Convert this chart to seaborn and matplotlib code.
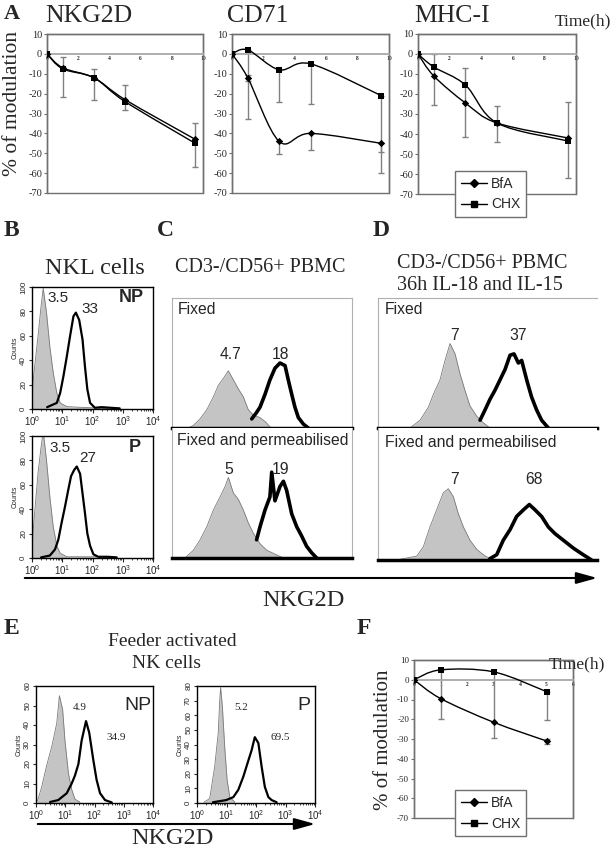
import numpy as np
import matplotlib
matplotlib.use('Agg')
import matplotlib.pyplot as plt
from matplotlib.path import Path
from matplotlib.patches import PathPatch, Rectangle, FancyArrowPatch
from matplotlib.lines import Line2D
from matplotlib.ticker import LogLocator, NullFormatter
import seaborn as sns

sns.set_style('white')
plt.rcParams['font.family'] = ['Liberation Sans', 'DejaVu Sans']
plt.rcParams['axes.unicode_minus'] = False
SERIF = ['Liberation Serif', 'DejaVu Serif']

# ---- panel A / F : % of modulation over time ----
time_a = [0, 1, 3, 5, 9.5]
nkg2d_bfa = [0, -7, -12, -23, -43]
nkg2d_chx = [0, -7.5, -12, -24, -45]
nkg2d_bar_t = [1, 3, 5, 9.5]
nkg2d_bar_lo = [-21.5, -23, -28, -57]
nkg2d_bar_hi = [-1.5, -7.5, -15.5, -35]

cd71_bfa = [0, -12, -44, -40, -45]
cd71_chx = [0, 2, -8, -5, -21]
cd71_bar_t = [1, 3, 5, 9.5, 1, 3, 5, 9.5]
cd71_bar_lo = [-33, -24, -25, -60, -13.5, -50.5, -48.5, -49.5]
cd71_bar_hi = [2, -8, -5, -21, -10.5, -44, -40, -45]

mhc_bfa = [0, -11, -24.5, -34.5, -42]
mhc_chx = [0, -6.5, -15.5, -34.5, -43.5]
mhc_bar_t = [1, 3, 5, 9.5]
mhc_bar_lo = [-25.5, -41.5, -44, -62]
mhc_bar_hi = [0, -7, -26, -24]

time_f = [0, 1, 3, 5]
f_bfa = [0, -9.5, -21.5, -31]
f_chx = [0, 5, 4, -6]
f_bar_t = [1, 3, 5, 5]
f_bar_lo = [-20, -29.5, -20.5, -32.5]
f_bar_hi = [5, 4, -6, -30]

# ---- panel B : NKL cells, log10 fluorescence vs counts ----
b_np_iso_log = [0.0, 0.04, 0.2, 0.29, 0.37, 0.48, 0.59, 0.70, 0.82, 0.93, 1.15, 1.5, 2.0, 2.6]
b_np_iso_cnt = [0, 24, 60, 82, 99, 79, 51, 30, 13, 5, 2, 1.5, 1, 0]
b_np_ab_log = [0.5, 0.82, 0.93, 1.04, 1.15, 1.26, 1.37, 1.45, 1.56, 1.67, 1.75, 1.83, 1.92, 2.08, 2.3, 2.6, 2.9]
b_np_ab_cnt = [1.5, 5, 13, 27, 43, 60, 76, 79, 73, 57, 35, 16, 5, 1, 1.5, 1, 0.5]
b_p_iso_log = [0.0, 0.04, 0.2, 0.3, 0.37, 0.48, 0.59, 0.70, 0.82, 0.93, 1.15, 1.6, 2.2, 2.8]
b_p_iso_cnt = [0, 23, 70, 91, 104, 80, 50, 26, 10, 4, 1, 1, 1, 0.5]
b_p_ab_log = [0.3, 0.59, 0.76, 0.87, 0.98, 1.09, 1.2, 1.29, 1.39, 1.48, 1.59, 1.67, 1.75, 1.83, 1.92, 2.03, 2.19, 2.5, 2.8]
b_p_ab_cnt = [0.5, 2, 7, 15, 29, 42, 56, 67, 72, 75, 69, 53, 37, 20, 10, 3, 1, 1, 0.5]

# ---- panels C / D : channel (0-1000) vs % of panel height ----
c_fix_iso_ch = [91, 119, 156, 193, 230, 258, 285, 313, 341, 369, 396, 424, 452, 489, 517, 544]
c_fix_iso_cnt = [0, 2, 7, 14, 24, 33, 38, 44, 37, 30, 24, 14, 10, 8, 5, 1]
c_fix_ab_ch = [443, 470, 489, 517, 544, 572, 600, 628, 646, 665, 683, 702, 730, 757]
c_fix_ab_cnt = [7, 12, 16, 26, 37, 46, 50, 48, 37, 26, 16, 8, 3, 0]
c_perm_iso_ch = [72, 119, 156, 193, 230, 267, 295, 313, 341, 369, 396, 424, 452, 489, 526, 572, 619]
c_perm_iso_cnt = [0, 6, 14, 24, 37, 47, 55, 62, 50, 45, 37, 27, 19, 11, 6, 3, 0]
c_perm_ab_ch = [470, 489, 517, 544, 554, 572, 600, 619, 637, 665, 693, 720, 748, 776, 804]
c_perm_ab_cnt = [14, 24, 37, 47, 66, 44, 55, 59, 52, 34, 24, 17, 9, 4, 0]

d_fix_iso_ch = [146, 192, 230, 253, 283, 306, 329, 352, 374, 397, 420, 451, 481, 511]
d_fix_iso_cnt = [0, 6, 16, 26, 37, 52, 65, 57, 42, 29, 17, 9, 4, 0]
d_fix_ab_ch = [466, 489, 511, 534, 557, 580, 603, 621, 641, 656, 679, 701, 724, 747, 778]
d_fix_ab_cnt = [6, 14, 22, 29, 37, 45, 56, 57, 50, 52, 37, 24, 14, 6, 0]
d_perm_iso_ch = [85, 177, 207, 237, 268, 298, 321, 344, 367, 390, 420, 451, 489, 527]
d_perm_iso_cnt = [0, 3, 10, 25, 38, 51, 54, 48, 35, 25, 15, 8, 3, 0]
d_perm_ab_ch = [511, 542, 572, 603, 633, 664, 691, 717, 747, 778, 808, 846, 892, 937, 975]
d_perm_ab_cnt = [1, 4, 15, 23, 33, 38, 42, 38, 33, 25, 20, 15, 9, 4, 0]

# ---- panel E : feeder activated NK cells ----
e_np_iso_log = [0.05, 0.19, 0.36, 0.54, 0.71, 0.80, 0.91, 0.99, 1.11, 1.22, 1.33, 1.50]
e_np_iso_cnt = [1, 8, 19, 29, 41, 55, 48, 32, 15, 7, 2, 0.5]
e_np_ab_log = [0.48, 0.76, 1.05, 1.22, 1.33, 1.45, 1.56, 1.71, 1.82, 1.96, 2.07, 2.19, 2.36, 2.59]
e_np_ab_cnt = [0.5, 1.5, 5, 10, 14, 20, 32, 42, 36, 22, 12, 5, 1.5, 0.3]
e_p_iso_log = [0.23, 0.43, 0.60, 0.72, 0.77, 0.80, 0.86, 0.94, 1.02, 1.11, 1.28]
e_p_iso_cnt = [0.5, 3, 25, 48, 70, 79, 66, 38, 16, 4, 0.7]
e_p_ab_log = [0.54, 0.99, 1.23, 1.40, 1.57, 1.74, 1.85, 1.96, 2.08, 2.19, 2.30, 2.42, 2.53, 2.7]
e_p_ab_cnt = [0.5, 2, 4, 9, 18, 29, 36, 45, 41, 25, 11, 4, 2, 0.5]

W, H = 615, 848
fig = plt.figure(figsize=(W / 100, H / 100), dpi=100)


def add_ax(l, t, r, b):
    return fig.add_axes([l / W, 1 - b / H, (r - l) / W, (b - t) / H])


def txt(x, y, s, **kw):
    kw.setdefault('ha', 'center')
    kw.setdefault('va', 'center')
    fig.text(x / W, 1 - y / H, s, **kw)


def smooth(ax, x, y):
    # excel-like smoothed line through the points
    p = np.column_stack([x, y]).astype(float)
    n = len(p)
    verts, codes = [p[0]], [Path.MOVETO]
    for i in range(n - 1):
        p0 = p[i - 1] if i > 0 else p[i]
        p3 = p[i + 2] if i + 2 < n else p[i + 1]
        verts += [p[i] + (p[i + 1] - p0) / 6, p[i + 1] - (p3 - p[i]) / 6, p[i + 1]]
        codes += [Path.CURVE4] * 3
    ax.add_patch(PathPatch(Path(verts, codes), fill=False, lw=1, ec='k', zorder=3))


def mod_panel(ax, t, bfa, chx, bt, blo, bhi, xmax, xstep, ysize=7.5):
    blo, bhi = np.array(blo), np.array(bhi)
    ax.errorbar(bt, (blo + bhi) / 2, yerr=(bhi - blo) / 2, fmt='none', ecolor='#808080',
                elinewidth=1, capsize=2.5, capthick=1, zorder=2)
    for y, mk, ms in ((bfa, 'D', 14), (chx, 's', 24)):
        smooth(ax, t, y)
        sns.scatterplot(x=t, y=y, marker=mk, s=ms, color='k', edgecolor='k', linewidth=0,
                        ax=ax, zorder=4, legend=False)
    ax.set_xlabel('')
    ax.set_ylabel('')
    ax.spines['bottom'].set_position(('data', 0))
    ax.spines['bottom'].set_color('#a8a8a8')
    ax.spines['bottom'].set_linewidth(1.3)
    for s in ('top', 'right', 'left'):
        ax.spines[s].set_color('#707070')
        ax.spines[s].set_linewidth(1)
    ax.set_xlim(0, xmax)
    ax.set_ylim(-70, 10)
    ax.set_yticks(range(-70, 11, 10), labels=[str(v) for v in range(-70, 11, 10)],
                  fontfamily=SERIF, fontsize=ysize)
    xt = np.arange(0, xmax + 0.1, xstep)
    ax.set_xticks(xt, labels=['%d' % v for v in xt], fontfamily=SERIF, fontsize=4, fontweight='bold')
    ax.add_patch(Rectangle((0, 0), 1, 1, transform=ax.transAxes, fill=False, ec='#707070',
                           lw=1, clip_on=False))
    ax.tick_params(axis='x', length=0, pad=1.5)
    ax.tick_params(axis='y', left=True, length=2, width=0.8, color='#707070', pad=1.5)


def flow_hist(ax, xi, yi, xa, ya, lw, log=True):
    xi = 10 ** np.array(xi) if log else np.array(xi)
    xa = 10 ** np.array(xa) if log else np.array(xa)
    ax.fill_between(xi, yi, color='#c4c4c4', lw=0, zorder=2)
    ax.plot(xi, yi, color='#7a7a7a', lw=0.6, zorder=2)
    sns.lineplot(x=xa, y=ya, color='k', lw=lw, sort=False, ax=ax, zorder=3)


def flow_axes(ax, ymax, ystep):
    ax.set_xscale('log')
    ax.set_xlim(1, 1e4)
    ax.set_ylim(0, ymax)
    ax.set_xticks([1, 10, 100, 1000, 10000])
    ax.xaxis.set_minor_locator(LogLocator(base=10, subs=range(2, 10), numticks=20))
    ax.xaxis.set_minor_formatter(NullFormatter())
    ax.set_yticks(range(0, ymax + 1, ystep))
    ax.tick_params(axis='y', left=True, length=2.5, width=0.8, labelsize=5.8, pad=1,
                   labelrotation=90)
    ax.tick_params(axis='x', which='major', bottom=True, length=3, width=0.8, labelsize=7, pad=1)
    ax.tick_params(axis='x', which='minor', bottom=True, length=1.5, width=0.6)
    for lab in ax.get_yticklabels():
        lab.set_va('center')
    for s in ax.spines.values():
        s.set_color('k')
        s.set_linewidth(1)
    ax.set_xlabel('')
    ax.set_ylabel('Counts', fontsize=5, labelpad=1)


def box_axes(ax, top=True, right=True):
    ax.set_xlim(0, 1000)
    ax.set_ylim(0, 100)
    ax.set_xticks([])
    ax.set_yticks([])
    for s in ('top', 'left', 'right'):
        ax.spines[s].set_color('#b0b0b0')
        ax.spines[s].set_linewidth(0.8)
    ax.spines['top'].set_visible(top)
    ax.spines['right'].set_visible(right)
    ax.spines['bottom'].set_color('k')
    ax.spines['bottom'].set_linewidth(2.5)
    ax.set_xlabel('')
    ax.set_ylabel('')


# ---------------- A ----------------
ax1 = add_ax(47, 34, 203, 193)
mod_panel(ax1, time_a, nkg2d_bfa, nkg2d_chx, nkg2d_bar_t, nkg2d_bar_lo, nkg2d_bar_hi, 10, 2)
ax2 = add_ax(232, 34, 389, 193)
mod_panel(ax2, time_a, cd71_bfa, cd71_chx, cd71_bar_t, cd71_bar_lo, cd71_bar_hi, 10, 2)
ax3 = add_ax(418, 34, 576, 194)
mod_panel(ax3, time_a, mhc_bfa, mhc_chx, mhc_bar_t, mhc_bar_lo, mhc_bar_hi, 10, 2)

txt(12, 14, 'A', fontfamily=SERIF, fontsize=16, fontweight='bold')
txt(89, 16, 'NKG2D', fontfamily=SERIF, fontsize=18.5)
txt(258, 16, 'CD71', fontfamily=SERIF, fontsize=18.5)
txt(452, 16, 'MHC-I', fontfamily=SERIF, fontsize=18.5)
txt(583, 21, 'Time(h)', fontfamily=SERIF, fontsize=12.5)
txt(13, 104, '% of modulation', fontfamily=SERIF, fontsize=15.5, rotation=90)

leg_handles = [Line2D([], [], color='k', lw=1, marker='D', ms=4),
               Line2D([], [], color='k', lw=1, marker='s', ms=5)]
for top in (171, 790):
    fig.legend(leg_handles, ['BfA', 'CHX'], loc='upper left', bbox_to_anchor=(455 / W, 1 - top / H),
               frameon=True, fancybox=False, edgecolor='#707070', framealpha=1, fontsize=10,
               handlelength=1.9, borderpad=0.4, labelspacing=0.5, handletextpad=0.3,
               borderaxespad=0)

# ---------------- B ----------------
txt(11, 230, 'B', fontfamily=SERIF, fontsize=17, fontweight='bold')
txt(95, 268, 'NKL cells', fontfamily=SERIF, fontsize=17.5)
bax1 = add_ax(32, 287, 153, 409)
flow_hist(bax1, b_np_iso_log, b_np_iso_cnt, b_np_ab_log, b_np_ab_cnt, 1.6)
flow_axes(bax1, 100, 20)
bax2 = add_ax(32, 436, 153, 558)
flow_hist(bax2, b_p_iso_log, b_p_iso_cnt, b_p_ab_log, b_p_ab_cnt, 1.6)
flow_axes(bax2, 100, 20)
txt(58, 298, '3.5', fontsize=11)
txt(90, 309, '33', fontsize=11)
txt(131, 298, 'NP', fontsize=13, fontweight='bold')
txt(60, 448, '3.5', fontsize=11)
txt(88, 458, '27', fontsize=11)
txt(135, 448, 'P', fontsize=13, fontweight='bold')

# ---------------- C ----------------
txt(165, 230, 'C', fontfamily=SERIF, fontsize=17, fontweight='bold')
txt(260, 268, 'CD3-/CD56+ PBMC', fontfamily=SERIF, fontsize=14.5)
cax1 = add_ax(172, 298, 352, 428)
flow_hist(cax1, c_fix_iso_ch, c_fix_iso_cnt, c_fix_ab_ch, c_fix_ab_cnt, 2.6, log=False)
box_axes(cax1)
cax2 = add_ax(172, 428, 352, 558)
flow_hist(cax2, c_perm_iso_ch, c_perm_iso_cnt, c_perm_ab_ch, c_perm_ab_cnt, 2.6, log=False)
box_axes(cax2, top=False)
txt(178, 309, 'Fixed', fontsize=11.3, ha='left')
txt(230, 354, '4.7', fontsize=11.3)
txt(280, 354, '18', fontsize=11.3)
txt(177, 440, 'Fixed and permeabilised', fontsize=11.3, ha='left')
txt(229, 469, '5', fontsize=11.3)
txt(281, 469, '19', fontsize=11.3)

# ---------------- D ----------------
txt(381, 230, 'D', fontfamily=SERIF, fontsize=17, fontweight='bold')
txt(397, 263, 'CD3-/CD56+ PBMC', fontfamily=SERIF, fontsize=14.5, ha='left')
txt(397, 285, '36h IL-18 and IL-15', fontfamily=SERIF, fontsize=14.5, ha='left')
dax1 = add_ax(378, 298, 597, 428)
flow_hist(dax1, d_fix_iso_ch, d_fix_iso_cnt, d_fix_ab_ch, d_fix_ab_cnt, 2.6, log=False)
box_axes(dax1, right=False)
dax2 = add_ax(378, 428, 597, 560)
flow_hist(dax2, d_perm_iso_ch, d_perm_iso_cnt, d_perm_ab_ch, d_perm_ab_cnt, 2.6, log=False)
box_axes(dax2, top=False, right=False)
txt(385, 309, 'Fixed', fontsize=11.3, ha='left')
txt(455, 336, '7', fontsize=11.3)
txt(518, 336, '37', fontsize=11.3)
txt(385, 443, 'Fixed and permeabilised', fontsize=11.3, ha='left')
txt(455, 479, '7', fontsize=11.3)
txt(534, 479, '68', fontsize=11.3)

fig.add_artist(FancyArrowPatch((22 / W, 1 - 578 / H), (600 / W, 1 - 578 / H),
                               transform=fig.transFigure, color='k', lw=1.5,
                               arrowstyle='-|>,head_length=0.9,head_width=0.25', mutation_scale=14))
txt(303, 600, 'NKG2D', fontfamily=SERIF, fontsize=17.5)

# ---------------- E ----------------
txt(11, 628, 'E', fontfamily=SERIF, fontsize=17, fontweight='bold')
txt(172, 641, 'Feeder activated', fontfamily=SERIF, fontsize=14)
txt(166, 663, 'NK cells', fontfamily=SERIF, fontsize=14)
eax1 = add_ax(36, 686, 153, 803)
flow_hist(eax1, e_np_iso_log, e_np_iso_cnt, e_np_ab_log, e_np_ab_cnt, 1.6)
flow_axes(eax1, 60, 10)
eax2 = add_ax(197, 686, 315, 803)
flow_hist(eax2, e_p_iso_log, e_p_iso_cnt, e_p_ab_log, e_p_ab_cnt, 1.6)
flow_axes(eax2, 80, 10)
txt(138, 706, 'NP', fontsize=14)
txt(80, 708, '4.9', fontfamily=SERIF, fontsize=8)
txt(116, 737, '34.9', fontfamily=SERIF, fontsize=8)
txt(304, 706, 'P', fontsize=14)
txt(241, 708, '5.2', fontfamily=SERIF, fontsize=8)
txt(280, 738, '69.5', fontfamily=SERIF, fontsize=8)
fig.add_artist(FancyArrowPatch((35 / W, 1 - 824 / H), (318 / W, 1 - 824 / H),
                               transform=fig.transFigure, color='k', lw=1.5,
                               arrowstyle='-|>,head_length=0.9,head_width=0.25', mutation_scale=14))
txt(172, 838, 'NKG2D', fontfamily=SERIF, fontsize=17.5)

# ---------------- F ----------------
txt(364, 629, 'F', fontfamily=SERIF, fontsize=17, fontweight='bold')
fax = add_ax(414, 660, 573, 818)
mod_panel(fax, time_f, f_bfa, f_chx, f_bar_t, f_bar_lo, f_bar_hi, 6, 1, ysize=6.5)
txt(577, 664, 'Time(h)', fontfamily=SERIF, fontsize=12.5)
txt(384, 740, '% of modulation', fontfamily=SERIF, fontsize=15, rotation=90)

fig.savefig('out.png', dpi=100, facecolor='white')
